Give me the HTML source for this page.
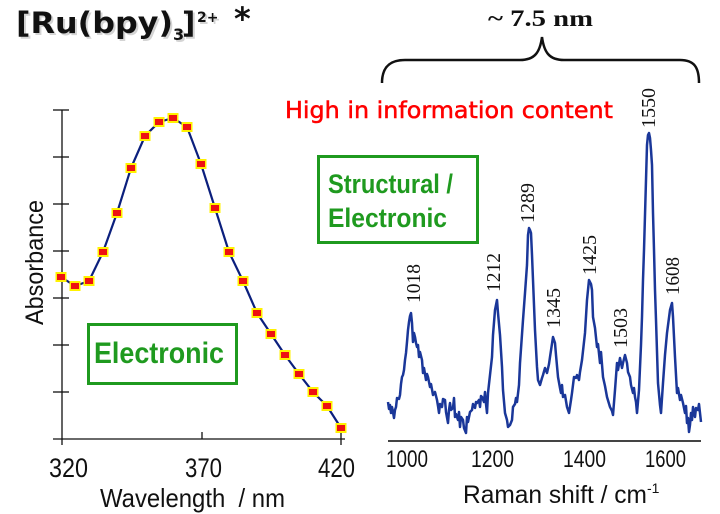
<!DOCTYPE html>
<html><head><meta charset="utf-8"><style>
html,body{margin:0;padding:0;background:#fff;}
svg{display:block;}
</style></head><body>
<svg width="720" height="514" viewBox="0 0 720 514" xmlns="http://www.w3.org/2000/svg">
<rect width="720" height="514" fill="#fff"/>

<!-- Title -->
<g font-family="DejaVu Sans, Liberation Sans, sans-serif" fill="#d4d4d4" font-weight="bold">
  <text x="18" y="35" font-size="29" textLength="157" lengthAdjust="spacingAndGlyphs">[Ru(bpy)</text>
  <text x="175" y="42" font-size="16">3</text>
  <text x="184" y="35" font-size="29">]</text>
  <text x="199" y="24" font-size="14">2+</text>
</g>
<g font-family="DejaVu Sans, Liberation Sans, sans-serif" fill="#111" font-weight="bold">
  <text x="16" y="33" font-size="29" textLength="157" lengthAdjust="spacingAndGlyphs">[Ru(bpy)</text>
  <text x="173" y="40" font-size="16">3</text>
  <text x="182" y="33" font-size="29">]</text>
  <text x="197" y="22" font-size="14">2+</text>
</g>
<text x="234" y="30" font-family="DejaVu Sans, sans-serif" font-weight="bold" font-size="32" fill="#111">*</text>

<!-- Left chart axes -->
<g stroke="#111" stroke-width="1.3" fill="none">
  <line x1="62" y1="110" x2="62" y2="445"/>
  <line x1="53" y1="439" x2="345" y2="439"/>
  <line x1="53" y1="110" x2="69" y2="110"/>
  <line x1="53" y1="157" x2="69" y2="157"/>
  <line x1="53" y1="204" x2="69" y2="204"/>
  <line x1="53" y1="251" x2="69" y2="251"/>
  <line x1="53" y1="298" x2="69" y2="298"/>
  <line x1="53" y1="345" x2="69" y2="345"/>
  <line x1="53" y1="392" x2="69" y2="392"/>
  <line x1="202" y1="432" x2="202" y2="439"/>
  <line x1="341" y1="432" x2="341" y2="445"/>
</g>
<g font-family="Liberation Sans, Arial, sans-serif" fill="#111">
  <text x="49" y="477" font-size="27" textLength="39" lengthAdjust="spacingAndGlyphs">320</text>
  <text x="185" y="477" font-size="27" textLength="37" lengthAdjust="spacingAndGlyphs">370</text>
  <text x="318" y="477" font-size="27" textLength="37" lengthAdjust="spacingAndGlyphs">420</text>
  <text x="100" y="507" font-size="26" textLength="185" lengthAdjust="spacingAndGlyphs">Wavelength&#160; / nm</text>
  <text transform="translate(43,325) rotate(-90)" font-size="25" textLength="125" lengthAdjust="spacingAndGlyphs">Absorbance</text>
</g>

<!-- Left curve -->
<polyline fill="none" stroke="#0b1f7d" stroke-width="2.2" stroke-linejoin="round"
 points="61,277 75,286 89,281 103,252 117,213 131,168 145,136 159,122 173,118 187,127 201,164 215,208 229,252 243,281 257,313 271,334 285,355 299,374 313,392 327,406 341,428"/>
<g>
<g fill="#fff200">
<rect x="55.5" y="272" width="11" height="10"/><rect x="69.5" y="281" width="11" height="10"/><rect x="83.5" y="276" width="11" height="10"/><rect x="97.5" y="247" width="11" height="10"/><rect x="111.5" y="208" width="11" height="10"/><rect x="125.5" y="163" width="11" height="10"/><rect x="139.5" y="131" width="11" height="10"/><rect x="153.5" y="117" width="11" height="10"/><rect x="167.5" y="113" width="11" height="10"/><rect x="181.5" y="122" width="11" height="10"/><rect x="195.5" y="159" width="11" height="10"/><rect x="209.5" y="203" width="11" height="10"/><rect x="223.5" y="247" width="11" height="10"/><rect x="237.5" y="276" width="11" height="10"/><rect x="251.5" y="308" width="11" height="10"/><rect x="265.5" y="329" width="11" height="10"/><rect x="279.5" y="350" width="11" height="10"/><rect x="293.5" y="369" width="11" height="10"/><rect x="307.5" y="387" width="11" height="10"/><rect x="321.5" y="401" width="11" height="10"/><rect x="335.5" y="423" width="11" height="10"/>
</g>
<g fill="#ee1111">
<rect x="57" y="274" width="8" height="6"/><rect x="71" y="283" width="8" height="6"/><rect x="85" y="278" width="8" height="6"/><rect x="99" y="249" width="8" height="6"/><rect x="113" y="210" width="8" height="6"/><rect x="127" y="165" width="8" height="6"/><rect x="141" y="133" width="8" height="6"/><rect x="155" y="119" width="8" height="6"/><rect x="169" y="115" width="8" height="6"/><rect x="183" y="124" width="8" height="6"/><rect x="197" y="161" width="8" height="6"/><rect x="211" y="205" width="8" height="6"/><rect x="225" y="249" width="8" height="6"/><rect x="239" y="278" width="8" height="6"/><rect x="253" y="310" width="8" height="6"/><rect x="267" y="331" width="8" height="6"/><rect x="281" y="352" width="8" height="6"/><rect x="295" y="371" width="8" height="6"/><rect x="309" y="389" width="8" height="6"/><rect x="323" y="403" width="8" height="6"/><rect x="337" y="425" width="8" height="6"/>
</g>
</g>

<!-- Electronic box -->
<rect x="88.5" y="324.5" width="148" height="59" fill="none" stroke="#1f9a1f" stroke-width="3"/>
<text x="94" y="363" font-family="Liberation Sans, Arial, sans-serif" font-weight="bold" font-size="30" fill="#1f9a1f" textLength="130" lengthAdjust="spacingAndGlyphs">Electronic</text>

<!-- Structural box -->
<rect x="318.5" y="156.5" width="159" height="86" fill="none" stroke="#1f9a1f" stroke-width="3"/>
<g font-family="Liberation Sans, Arial, sans-serif" font-weight="bold" font-size="27" fill="#1f9a1f">
  <text x="328" y="193" textLength="125" lengthAdjust="spacingAndGlyphs">Structural /</text>
  <text x="328" y="227" textLength="119" lengthAdjust="spacingAndGlyphs">Electronic</text>
</g>

<!-- Red text -->
<text x="285" y="118" font-family="DejaVu Sans, sans-serif" font-size="23" fill="#ff0000" stroke="#ff0000" stroke-width="0.5" textLength="328" lengthAdjust="spacingAndGlyphs">High in information content</text>

<!-- Brace -->
<path d="M382,83 C382,67 390,60 405,60 L520,60 C535,60 540,52 542,37 C544,52 549,60 564,60 L680,60 C694,60 699,67 699,83" fill="none" stroke="#111" stroke-width="2.5"/>
<text x="488" y="26" font-family="Liberation Serif, Times New Roman, serif" font-weight="bold" font-size="23" fill="#111" textLength="105" lengthAdjust="spacingAndGlyphs">~ 7.5 nm</text>

<!-- Raman axis -->
<line x1="388" y1="441" x2="701" y2="441" stroke="#444" stroke-width="2"/>
<g font-family="Liberation Sans, Arial, sans-serif" font-size="24" fill="#111">
  <text x="386" y="467" textLength="42" lengthAdjust="spacingAndGlyphs">1000</text>
  <text x="471" y="467" textLength="43" lengthAdjust="spacingAndGlyphs">1200</text>
  <text x="563" y="467" textLength="43" lengthAdjust="spacingAndGlyphs">1400</text>
  <text x="645" y="467" textLength="41" lengthAdjust="spacingAndGlyphs">1600</text>
  <text x="463" y="503" font-size="25" textLength="184" lengthAdjust="spacingAndGlyphs">Raman shift / cm</text>
  <text x="647" y="493" font-size="14">-1</text>
</g>

<!-- Peak labels -->
<g font-family="Liberation Serif, Times New Roman, serif" font-size="20" fill="#111">
  <text transform="translate(420,303) rotate(-90)" textLength="39" lengthAdjust="spacingAndGlyphs">1018</text>
  <text transform="translate(500,292) rotate(-90)" textLength="39" lengthAdjust="spacingAndGlyphs">1212</text>
  <text transform="translate(534,223) rotate(-90)" textLength="40" lengthAdjust="spacingAndGlyphs">1289</text>
  <text transform="translate(560,328) rotate(-90)" textLength="40" lengthAdjust="spacingAndGlyphs">1345</text>
  <text transform="translate(596,275) rotate(-90)" textLength="40" lengthAdjust="spacingAndGlyphs">1425</text>
  <text transform="translate(627,348) rotate(-90)" textLength="40" lengthAdjust="spacingAndGlyphs">1503</text>
  <text transform="translate(655,128) rotate(-90)" textLength="40" lengthAdjust="spacingAndGlyphs">1550</text>
  <text transform="translate(679,295) rotate(-90)" textLength="38" lengthAdjust="spacingAndGlyphs">1608</text>
</g>

<!-- Raman spectrum -->
<polyline fill="none" stroke="#1a3799" stroke-width="2.5" stroke-linejoin="round"
 points="388,402 389,409 390,405 391,413 392,407 393,412 394,418 395,410 396,407 397,398 399,399 400,395 401,384 402,377 403,375 404,370 405,360 406,353 407,342 408,330 409,322 410,316 411,313 412,323 413,342 414,333 415,337 416,343 417,347 418,345 419,357 420,352 422,360 423,373 424,368 426,380 427,374 428,377 430,387 431,384 433,395 435,392 437,400 438,406 439,413 440,404 442,407 443,399 445,400 446,412 448,423 449,410 450,403 451,410 453,408 454,398 455,417 456,414 458,420 459,412 460,427 461,417 463,420 464,428 466,433 467,417 468,422 470,412 472,410 473,404 475,408 476,402 477,403 479,400 480,407 481,396 482,397 484,402 485,392 486,404 487,413 488,393 490,375 492,357 493,335 495,310 497,300 498,313 500,335 502,367 503,390 505,413 507,420 508,427 510,425 512,420 513,407 515,404 516,398 517,402 519,385 520,363 523,320 525,293 527,265 528,235 529,228 530,230 531,233 532,255 533,280 535,330 537,367 538,380 540,385 542,378 543,375 545,368 547,373 549,364 550,357 553,337 555,343 556,355 558,377 560,388 561,393 562,385 563,397 565,395 567,407 569,413 571,400 572,393 574,377 576,378 577,375 579,380 580,372 582,360 585,333 587,300 589,280 591,284 592,290 593,317 595,328 597,347 598,344 600,363 601,352 603,377 605,386 607,397 610,407 612,411 613,415 615,390 617,363 618,370 620,358 622,368 623,363 625,355 627,363 628,372 630,377 631,385 633,393 634,388 635,397 636,402 637,413 639,390 641,345 642,317 643,280 644,250 646,180 647,145 648,135 649,133 650,138 651,150 652,165 653,213 654,250 655,290 656,320 658,383 660,405 661,413 663,383 665,355 667,333 670,310 672,303 673,317 675,357 677,393 678,388 680,400 681,395 683,403 684,408 685,413 686,406 687,423 688,418 689,432 690,425 691,413 692,420 693,407 694,412 695,417 696,408 698,410 699,404 701,422"/>
</svg>
</body></html>
